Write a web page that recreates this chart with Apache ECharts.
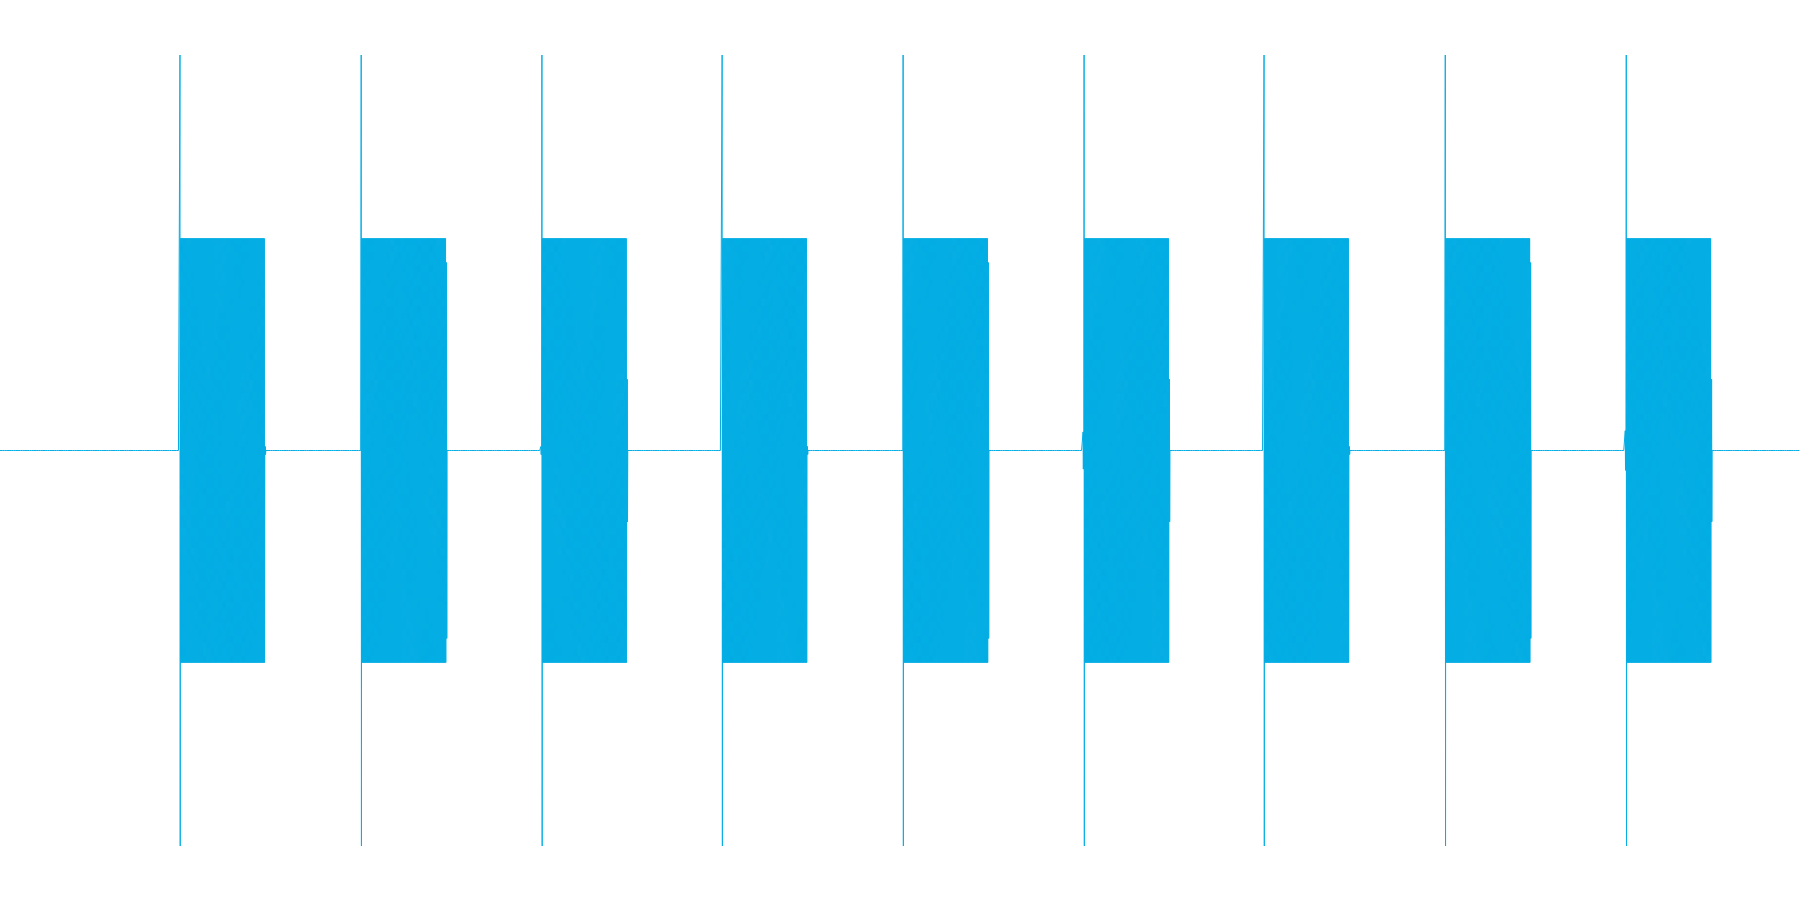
<!DOCTYPE html>
<html>
<head>
<meta charset="utf-8">
<style>
  html, body { margin: 0; padding: 0; background: #ffffff; }
  #chart { width: 1800px; height: 900px; }
</style>
<script src="https://cdn.jsdelivr.net/npm/echarts@6/dist/echarts.min.js"></script>
</head>
<body>
<div id="chart"></div>
<script>
// ---- data (normalised amplitude, time in seconds) ----
const sampleRate = 720;          // samples per second
const duration = 9.96;           // length of the recording (s)
const beepStarts = [0.996, 1.998, 2.999, 3.996, 4.997, 5.999, 6.995, 7.997, 8.998];
const spikeAmps  = [1, 1, 1, 1, 1, 1, 1, 1, 1];
const burstAmps  = [0.536, 0.536, 0.536, 0.536, 0.536, 0.536, 0.536, 0.536, 0.536];
const burstLengths = [0.470, 0.470, 0.470, 0.470, 0.470, 0.470, 0.470, 0.470, 0.470];
const leadAmps   = [0, 0, 0.01, 0, 0, 0.047, 0, 0, 0.05];
const tailAmps   = [0.01, 0.475, 0.18, 0.01, 0.475, 0.18, 0.01, 0.475, 0.18];

// ---- build the sample sequence from the arrays above ----
const nSamples = Math.round(duration * sampleRate) + 1;
const samples = new Array(nSamples).fill(0);
beepStarts.forEach(function (t, i) {
  const s0 = Math.round(t * sampleRate);
  if (leadAmps[i] > 0) {
    for (let j = 4; j >= 1; j--) {
      samples[s0 - j] = (j % 2 === 0 ? 1 : -1) * leadAmps[i];
    }
  }
  samples[s0] = spikeAmps[i];
  samples[s0 + 1] = -spikeAmps[i];
  const nb = Math.round(burstLengths[i] * sampleRate);
  let k = s0 + 2;
  for (let j = 0; j < nb - 2; j++, k++) {
    samples[k] = (j % 2 === 0 ? 1 : -1) * burstAmps[i];
  }
  for (let j = 0; j < 4; j++, k++) {
    samples[k] = (j % 2 === 0 ? 1 : -1) * tailAmps[i];
  }
});
const seriesData = samples.map(function (v, idx) { return [idx / sampleRate, v]; });

const chart = echarts.init(document.getElementById('chart'), null, { renderer: 'canvas' });
chart.setOption({
  animation: false,
  backgroundColor: '#ffffff',
  grid: { left: 0, right: 0, top: 55, bottom: 54, containLabel: false },
  xAxis: {
    type: 'value', min: 0, max: duration, show: false
  },
  yAxis: {
    type: 'value', min: -1, max: 1, show: false
  },
  series: [{
    type: 'line',
    data: seriesData,
    showSymbol: false,
    symbol: 'none',
    sampling: null,
    lineStyle: { color: '#06aee4', width: 1 },
    itemStyle: { color: '#06aee4' }
  }]
});
</script>
</body>
</html>
